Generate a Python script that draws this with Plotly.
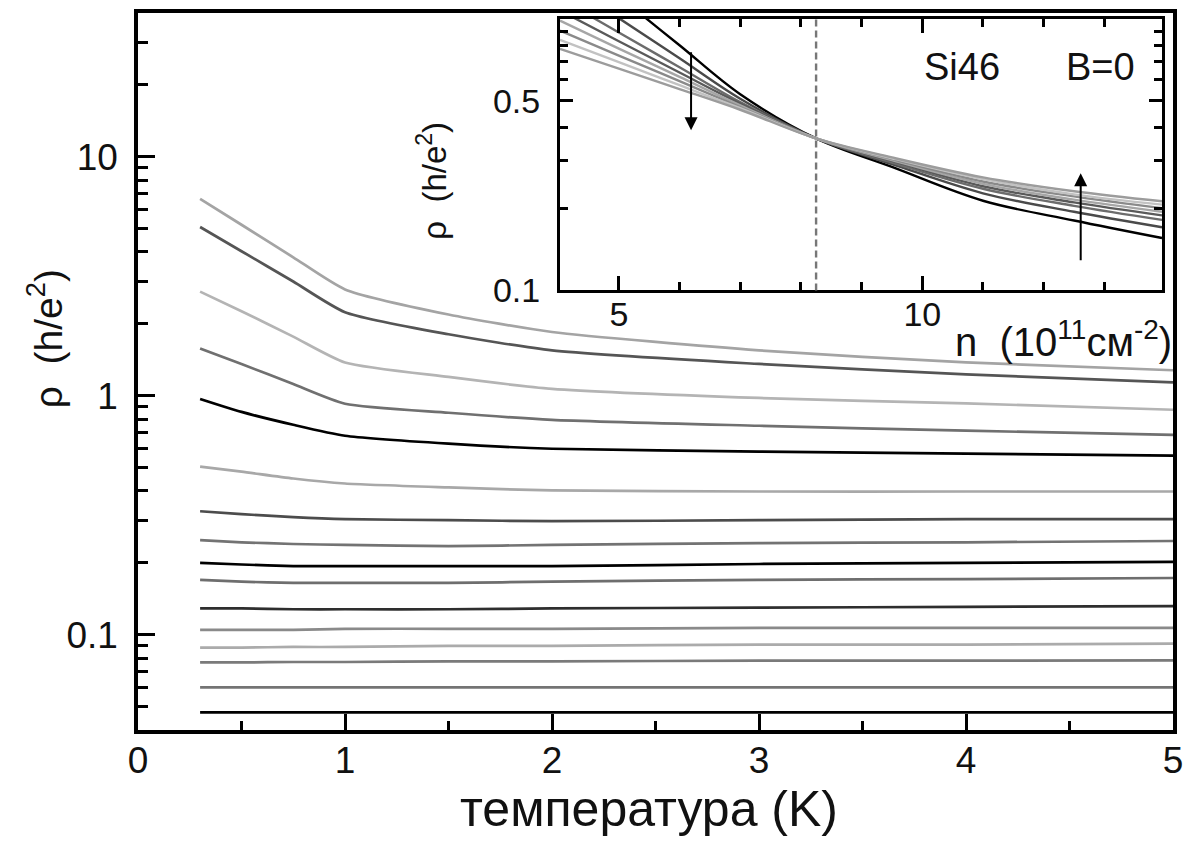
import plotly.graph_objects as go

# ---------------- main panel data: rho(T) at different densities ----------------
T = [0.3, 0.5, 0.75, 1.0, 1.5, 2.0, 3.0, 4.0, 5.0]

rho_01 = [6.67, 5.20, 3.80, 2.79, 2.19, 1.85, 1.55, 1.38, 1.28]
rho_02 = [5.09, 4.03, 3.01, 2.24, 1.81, 1.55, 1.36, 1.23, 1.14]
rho_03 = [2.73, 2.26, 1.77, 1.38, 1.20, 1.07, 0.98, 0.93, 0.875]
rho_04 = [1.58, 1.36, 1.12, 0.927, 0.850, 0.794, 0.750, 0.715, 0.687]
rho_05 = [0.971, 0.857, 0.757, 0.681, 0.631, 0.601, 0.585, 0.573, 0.562]
rho_06 = [0.506, 0.482, 0.451, 0.430, 0.414, 0.402, 0.398, 0.398, 0.398]
rho_07 = [0.329, 0.320, 0.311, 0.305, 0.302, 0.299, 0.302, 0.305, 0.305]
rho_08 = [0.249, 0.244, 0.240, 0.238, 0.235, 0.238, 0.242, 0.244, 0.247]
rho_09 = [0.200, 0.197, 0.194, 0.194, 0.194, 0.194, 0.198, 0.200, 0.202]
rho_10 = [0.170, 0.167, 0.165, 0.165, 0.165, 0.167, 0.170, 0.171, 0.173]
rho_11 = [0.129, 0.129, 0.128, 0.128, 0.128, 0.129, 0.130, 0.131, 0.132]
rho_12 = [0.105, 0.105, 0.105, 0.106, 0.106, 0.106, 0.107, 0.107, 0.107]
rho_13 = [0.0885, 0.0885, 0.089, 0.089, 0.090, 0.090, 0.091, 0.091, 0.092]
rho_14 = [0.0767, 0.0767, 0.077, 0.077, 0.0775, 0.0775, 0.078, 0.078, 0.0782]
rho_15 = [0.0603, 0.0603, 0.0603, 0.0603, 0.0603, 0.0603, 0.0603, 0.0603, 0.0603]
rho_16 = [0.0474, 0.0474, 0.0474, 0.0474, 0.0474, 0.0474, 0.0474, 0.0474, 0.0474]

main_series = [rho_01, rho_02, rho_03, rho_04, rho_05, rho_06, rho_07, rho_08,
               rho_09, rho_10, rho_11, rho_12, rho_13, rho_14, rho_15, rho_16]
main_colors = ["#a4a4a4", "#555555", "#b4b4b4", "#707070", "#000000", "#a8a8a8",
               "#4c4c4c", "#737373", "#000000", "#6e6e6e", "#2e2e2e", "#8a8a8a",
               "#ababab", "#7a7a7a", "#747474", "#000000"]

# ---------------- inset data: rho(n) at different temperatures ----------------
n_dens = [4.03, 5.0, 6.0, 7.0, 8.25, 9.5, 11.0, 12.5, 13.95]

rn_1 = [1.820, 1.211, 0.800, 0.528, 0.363, 0.285, 0.214, 0.181, 0.156]
rn_2 = [1.409, 1.007, 0.716, 0.508, 0.363, 0.292, 0.228, 0.195, 0.171]
rn_3 = [1.189, 0.891, 0.664, 0.494, 0.363, 0.296, 0.237, 0.205, 0.182]
rn_4 = [1.074, 0.828, 0.635, 0.488, 0.363, 0.300, 0.242, 0.211, 0.189]
rn_5 = [0.986, 0.778, 0.612, 0.481, 0.363, 0.302, 0.247, 0.216, 0.195]
rn_6 = [0.906, 0.733, 0.590, 0.474, 0.363, 0.305, 0.252, 0.222, 0.201]
rn_7 = [0.838, 0.693, 0.570, 0.469, 0.363, 0.307, 0.257, 0.226, 0.207]
rn_8 = [0.776, 0.656, 0.552, 0.463, 0.363, 0.309, 0.261, 0.232, 0.213]

inset_series = [rn_1, rn_2, rn_3, rn_4, rn_5, rn_6, rn_7, rn_8]
inset_colors = ["#000000", "#4a4a4a", "#6c6c6c", "#5a5a5a", "#a6a6a6",
                "#8a8a8a", "#c2c2c2", "#9c9c9c"]
n_critical = 8.25

# tick definitions
main_x_major = [0, 1, 2, 3, 4, 5]
main_x_minor = [0.5, 1.5, 2.5, 3.5, 4.5]
main_y_major = [0.1, 1, 10]
main_y_labels = ["0.1", "1", "10"]
main_y_minor = [0.05, 0.06, 0.07, 0.08, 0.09, 0.2, 0.3, 0.4, 0.5, 0.6, 0.7, 0.8,
                0.9, 2, 3, 4, 5, 6, 7, 8, 9, 20, 30]
inset_x_major = [5, 10]
inset_x_minor = [6, 7, 8, 9, 11, 12, 13]
inset_y_major = [0.1, 0.5]
inset_y_labels = ["0.1", "0.5"]
inset_y_minor = [0.2, 0.3, 0.4, 0.6, 0.7, 0.8, 0.9]

FONT = "Liberation Sans, Arial, sans-serif"

fig = go.Figure()
for vals, col in zip(main_series, main_colors):
    fig.add_trace(go.Scatter(x=T, y=vals, mode="lines", xaxis="x", yaxis="y",
                             line=dict(color=col, width=2.7, shape="spline",
                                       smoothing=0.6),
                             showlegend=False, hoverinfo="skip"))
for vals, col in zip(inset_series, inset_colors):
    fig.add_trace(go.Scatter(x=n_dens, y=vals, mode="lines", xaxis="x2", yaxis="y2",
                             line=dict(color=col, width=2.4, shape="spline"),
                             showlegend=False, hoverinfo="skip"))

axis_common = dict(showgrid=False, zeroline=False, showline=True, linecolor="black",
                   ticks="inside", tickcolor="black")

fig.update_layout(
    width=1194, height=841,
    margin=dict(l=138, r=21, t=9, b=111),
    paper_bgcolor="white", plot_bgcolor="white",
    font=dict(family=FONT, color="#111111"),
    xaxis=dict(**axis_common, domain=[0, 1], range=[0, 5], tickvals=main_x_major,
               ticklen=16, tickwidth=3, linewidth=3.5, mirror=True,
               tickfont=dict(size=37), ticklabelstandoff=-5,
               minor=dict(tickvals=main_x_minor, ticks="inside", ticklen=9,
                          tickwidth=3, tickcolor="black")),
    yaxis=dict(**axis_common, type="log", range=[-1.398, 1.602],
               tickvals=main_y_major, ticktext=main_y_labels,
               ticklen=17, tickwidth=3, linewidth=3.5, mirror=True,
               tickfont=dict(size=37), ticklabelstandoff=9,
               minor=dict(tickvals=main_y_minor, ticks="inside", ticklen=10,
                          tickwidth=3, tickcolor="black")),
    xaxis2=dict(**axis_common, domain=[0.4077, 0.9894], anchor="y2",
                range=[4.03, 13.95], tickvals=inset_x_major,
                ticklen=14, tickwidth=3, linewidth=3, mirror="ticks",
                tickfont=dict(size=34), ticklabelstandoff=-8,
                minor=dict(tickvals=inset_x_minor, ticks="inside", ticklen=8,
                           tickwidth=3, tickcolor="black")),
    yaxis2=dict(**axis_common, domain=[0.613, 0.9917], anchor="x2", type="log",
                range=[-1, 0], tickvals=inset_y_major, ticktext=inset_y_labels,
                ticklen=13, tickwidth=3, linewidth=3, mirror="ticks",
                tickfont=dict(size=34), ticklabelstandoff=10,
                minor=dict(tickvals=inset_y_minor, ticks="inside", ticklen=8,
                           tickwidth=3, tickcolor="black")),
)

# dashed line at the critical density
fig.add_shape(type="line", xref="x2", yref="y2 domain", x0=n_critical, x1=n_critical,
              y0=0, y1=1, line=dict(color="#777777", width=2.4, dash="7px,4px"))

ann = []
ann.append(dict(text="ρ  (h/e<sup>2</sup>)", xref="paper", yref="paper", x=-0.09, y=0.546,
                textangle=-90, showarrow=False, font=dict(size=39),
                xanchor="center", yanchor="middle"))
ann.append(dict(text="температура (K)", xref="paper", yref="paper", x=0.494, y=-0.110,
                showarrow=False, font=dict(size=50), xanchor="center", yanchor="middle"))
ann.append(dict(text="ρ  (h/e<sup>2</sup>)", xref="paper", yref="paper", x=0.284, y=0.766,
                textangle=-90, showarrow=False, font=dict(size=33),
                xanchor="center", yanchor="middle"))
ann.append(dict(text="n  (10<sup>11</sup>см<sup>-2</sup>)", xref="paper", yref="paper",
                x=1.001, y=0.545, showarrow=False, font=dict(size=40),
                xanchor="right", yanchor="middle"))
ann.append(dict(text="Si46", xref="paper", yref="paper", x=0.796, y=0.924,
                showarrow=False, font=dict(size=38), xanchor="center", yanchor="middle"))
ann.append(dict(text="B=0", xref="paper", yref="paper", x=0.930, y=0.924,
                showarrow=False, font=dict(size=38), xanchor="center", yanchor="middle"))
# arrows (log axis: y given as log10)
ann.append(dict(x=6.19, y=-0.410, ax=6.19, ay=-0.117, xref="x2", yref="y2",
                axref="x2", ayref="y2", text="", showarrow=True, arrowhead=2,
                arrowsize=1.3, arrowwidth=2, arrowcolor="black"))
ann.append(dict(x=12.61, y=-0.568, ax=12.61, ay=-0.894, xref="x2", yref="y2",
                axref="x2", ayref="y2", text="", showarrow=True, arrowhead=2,
                arrowsize=1.3, arrowwidth=2, arrowcolor="black"))
fig.update_layout(annotations=ann)

fig.write_html("out.html", config={"displayModeBar": False},
               post_script="document.body.style.margin='0';document.body.style.overflow='hidden';")
